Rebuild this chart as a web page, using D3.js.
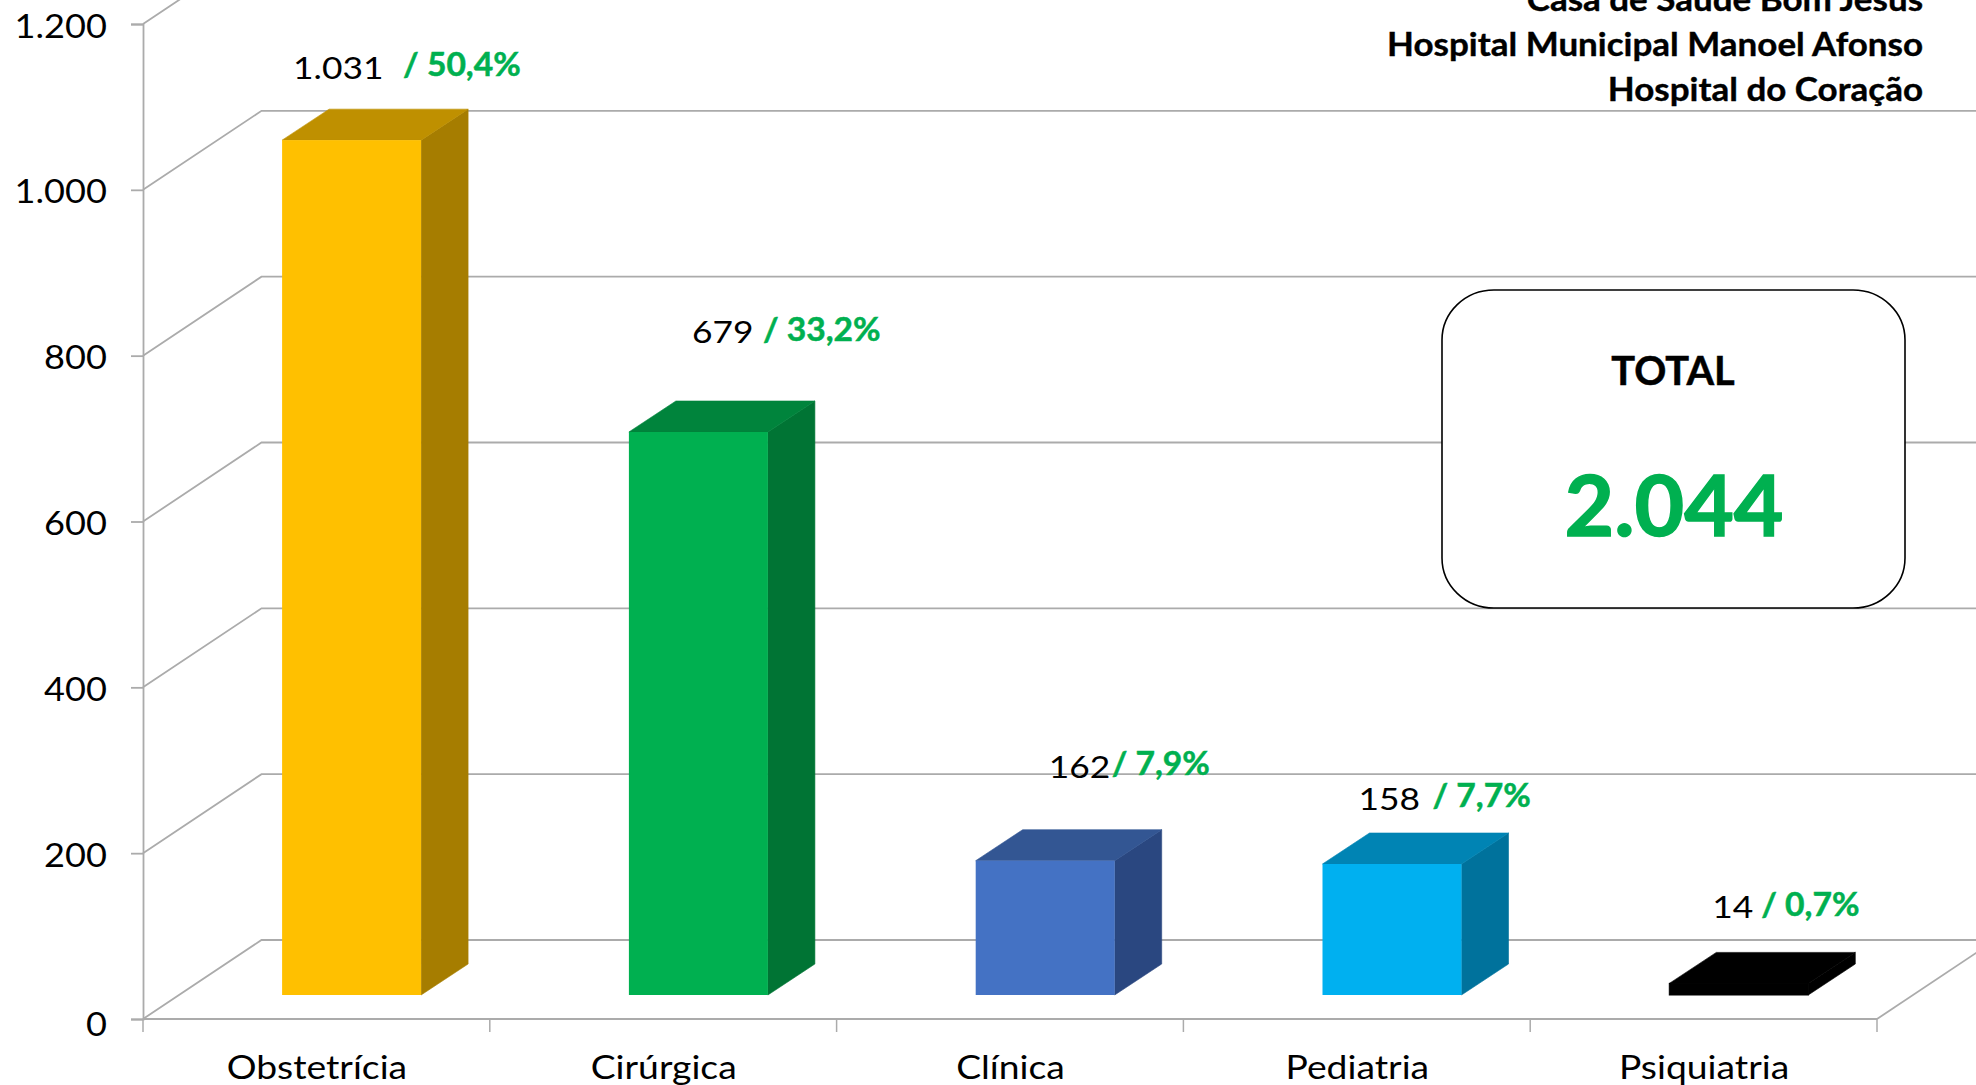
<!DOCTYPE html>
<html><head><meta charset="utf-8">
<script src="https://cdn.jsdelivr.net/npm/d3@7"></script>
<style>html,body{margin:0;padding:0;background:#fff}svg{display:block}text{font-family:Lato,sans-serif}</style>
</head><body><svg id="c" width="1976" height="1085"></svg>
<script>
const categories = ["Obstetrícia","Cirúrgica","Clínica","Pediatria","Psiquiatria"];
const values = [1031,679,162,158,14];
const valueLabels = ["1.031","679","162","158","14"];
const shareLabels = ["/ 50,4%","/ 33,2%","/ 7,9%","/ 7,7%","/ 0,7%"];
const yTicks = [0,200,400,600,800,1000,1200];
const yTickLabels = ["0","200","400","600","800","1.000","1.200"];
const titleLines = ["Casa de Saúde Bom Jesus","Hospital Municipal Manoel Afonso","Hospital do Coração"];
const totalLabel = "TOTAL", totalValue = "2.044";
const frontColors = ["#FFC000","#00B050","#4472C4","#00B0F0","#000000"];
const topColors = ["#BF9000","#00843C","#335693","#0084B4","#000000"];
const sideColors = ["#A67D00","#007434","#2A4780","#00729C","#000000"];
// label anchors relative to the bar's front-top-left corner
const valueOffset = [[11,-61],[63,-89],[73,-83],[36,-54],[43,-65]];
const shareOffset = [[121,-64],[134,-91],[136,-86],[110,-57],[92,-67]];

const GREEN="#00B050", GRID="#ABABAB";
const svg=d3.select("#c");
const y=d3.scaleLinear().domain([0,1200]).range([1019,24]);
const x=d3.scaleBand().domain(categories).range([143,1877]);
const wall={dx:118.5,dy:-79}, barD={dx:47,dy:-31}, barW=139, inset=24, barShift=35.2;

// gridlines: diagonal side-wall + back-wall horizontal
const g=svg.append("g").attr("fill","none").attr("stroke",GRID).attr("stroke-width",1.8);
g.selectAll("path.grid").data(yTicks).join("path").attr("class","grid")
  .attr("d",d=>`M${x.range()[0]},${y(d)}L${x.range()[0]+wall.dx},${y(d)+wall.dy}H1976`);
g.append("path").attr("d",`M${x.range()[1]},${y(0)}l${wall.dx},${wall.dy}`);

// y axis
const ya=svg.append("g").attr("transform",`translate(${x.range()[0]},0)`)
  .call(d3.axisLeft(y).tickValues(yTicks).tickSize(12).tickFormat((d,i)=>yTickLabels[i]));
ya.selectAll(".domain,line").attr("stroke",GRID).attr("stroke-width",1.8);
ya.selectAll("text").attr("x",0).attr("dy",null).attr("fill","#000").attr("font-size",32).attr("text-anchor","end")
  .attr("font-family","Lato").attr("transform",d=>`translate(-36,${y(d)===y(0)?16:13}) scale(1.13,1)`);

// x axis
const xa=svg.append("g").attr("transform",`translate(0,${y(0)})`);
xa.append("path").attr("d",`M${x.range()[0]},0H${x.range()[1]}`).attr("stroke",GRID).attr("stroke-width",1.8).attr("fill","none");
xa.selectAll("line").data(d3.range(categories.length+1)).join("line")
  .attr("x1",i=>x.range()[0]+i*x.step()).attr("x2",i=>x.range()[0]+i*x.step()).attr("y1",0).attr("y2",13)
  .attr("stroke",GRID).attr("stroke-width",1.5);
xa.selectAll("text").data(categories).join("text").attr("text-anchor","middle").attr("font-size",33).attr("fill","#000")
  .attr("transform",d=>`translate(${x(d)+x.bandwidth()/2+.5},${60}) scale(1.13,1)`).text(d=>d);

// bars
const left=c=>x(c)+x.bandwidth()/2+barShift-barW/2;
const bars=svg.selectAll("g.bar").data(categories.map((c,i)=>({c,i,v:values[i]}))).join("g").attr("class","bar");
const base=y(0)-inset;
const topY=d=>y(d.v)-inset;
bars.append("path").attr("fill",d=>sideColors[d.i]).attr("stroke",d=>sideColors[d.i]).attr("stroke-width",.6)
  .attr("d",d=>`M${left(d.c)+barW},${base}V${topY(d)}l${barD.dx},${barD.dy}V${base+barD.dy}Z`);
bars.append("path").attr("fill",d=>topColors[d.i]).attr("stroke",d=>topColors[d.i]).attr("stroke-width",.6)
  .attr("d",d=>`M${left(d.c)},${topY(d)}h${barW}l${barD.dx},${barD.dy}h${-barW}Z`);
bars.append("rect").attr("fill",d=>frontColors[d.i]).attr("stroke",d=>d.i===4?"#000":"none").attr("stroke-width",1)
  .attr("x",d=>left(d.c)).attr("width",barW).attr("y",topY).attr("height",d=>base-topY(d));

// data labels
bars.append("text").attr("font-size",31).attr("fill","#000")
  .attr("transform",d=>`translate(${left(d.c)+valueOffset[d.i][0]},${topY(d)+valueOffset[d.i][1]}) scale(1.14,1)`)
  .text(d=>valueLabels[d.i]);
bars.append("text").attr("font-size",32).attr("font-weight",700).attr("fill",GREEN)
  .attr("stroke",GREEN).attr("stroke-width",.5)
  .attr("transform",d=>`translate(${left(d.c)+shareOffset[d.i][0]},${topY(d)+shareOffset[d.i][1]}) scale(1.05,1)`)
  .text(d=>shareLabels[d.i]);

// title lines
svg.selectAll("text.title").data(titleLines).join("text").attr("class","title").attr("text-anchor","end")
  .attr("font-size",33).attr("font-weight",700).attr("fill","#000").attr("stroke","#000").attr("stroke-width",.4)
  .attr("transform",(d,i)=>`translate(1923,${11+i*45}) scale(1.06,1)`).text(d=>d);

// total box
svg.append("rect").attr("x",1442).attr("y",290).attr("width",463).attr("height",318).attr("rx",52).attr("ry",50)
  .attr("fill","#fff").attr("stroke","#000").attr("stroke-width",1.6);
svg.append("text").attr("text-anchor","middle").attr("font-size",41).attr("font-weight",700).attr("fill","#000")
  .attr("stroke","#000").attr("stroke-width",.5)
  .attr("transform",`translate(1673,385) scale(.97,1)`).text(totalLabel);
svg.append("text").attr("text-anchor","middle").attr("font-size",84).attr("font-weight",700).attr("fill",GREEN)
  .attr("stroke",GREEN).attr("stroke-width",1.4)
  .attr("transform",`translate(1674,536) scale(1.02,1)`).text(totalValue);
</script></body></html>
